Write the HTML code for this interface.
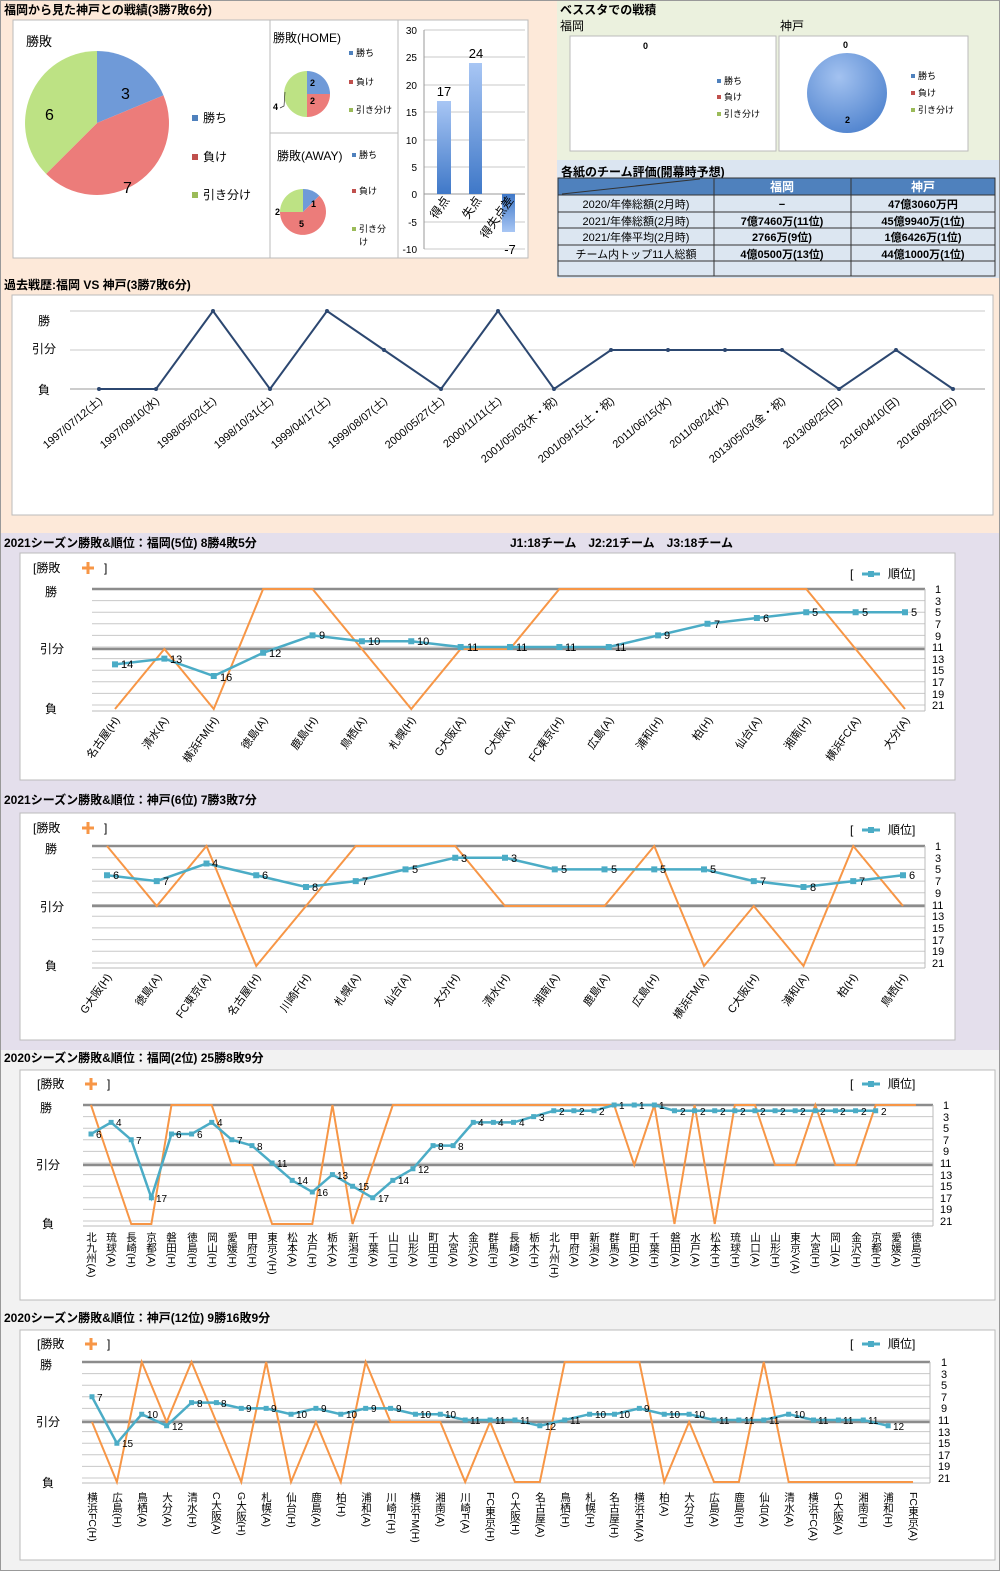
<!DOCTYPE html>
<html><head><meta charset="utf-8"><style>
body{margin:0;width:1000px;height:1571px;overflow:hidden;font-family:"Liberation Sans","Noto Sans CJK JP",sans-serif}
svg text{font-family:"Liberation Sans","Noto Sans CJK JP",sans-serif}
.t{font-size:12px;font-weight:bold}
.s{font-size:11px}
.r{font-size:11px}
.n{font-size:10px}
.g line{stroke:#c8c8c8;stroke-width:1;vector-effect:non-scaling-stroke}
.ns{vector-effect:non-scaling-stroke;fill:none}
.vt{font-size:10.5px;writing-mode:vertical-rl}
</style></head><body>
<svg width="1000" height="1571" viewBox="0 0 1000 1571" xmlns="http://www.w3.org/2000/svg">
<defs>
<linearGradient id="bb" x1="0" y1="0" x2="0" y2="1"><stop offset="0" stop-color="#a8c6f4"/><stop offset="1" stop-color="#3f78c8"/></linearGradient>
<linearGradient id="bn" x1="0" y1="0" x2="0" y2="1"><stop offset="0" stop-color="#3f78c8"/><stop offset="1" stop-color="#a8c6f4"/></linearGradient>
<radialGradient id="pb" cx="0.4" cy="0.3" r="0.8"><stop offset="0" stop-color="#a3c2f0"/><stop offset="1" stop-color="#4a7fcc"/></radialGradient>
</defs>
<rect x="0" y="0" width="1000" height="533" fill="#fde9d9"/>
<rect x="557" y="0" width="443" height="160" fill="#ebf1de"/>
<rect x="557" y="160" width="443" height="118" fill="#dbe5f1"/>
<rect x="0" y="533" width="1000" height="517" fill="#e4dfec"/>
<rect x="0" y="1050" width="1000" height="521" fill="#f2f2f2"/>
<rect x="0.5" y="0.5" width="999" height="1570" fill="none" stroke="#999"/>

<text x="4" y="14" class="t">福岡から見た神戸との戦績(3勝7敗6分)</text>
<rect x="13" y="20" width="515" height="238" fill="#fff" stroke="#bbb"/>
<line x1="270" y1="20" x2="270" y2="258" stroke="#bbb"/>
<line x1="398" y1="20" x2="398" y2="258" stroke="#bbb"/>
<line x1="270" y1="133" x2="398" y2="133" stroke="#bbb"/>
<text x="26" y="46" font-size="13">勝敗</text>
<path d="M97,123 L97,51 A72,72 0 0 1 163.5,95.4 Z" fill="#6f9ad8"/>
<path d="M97,123 L163.5,95.4 A72,72 0 0 1 46.1,173.9 Z" fill="#ec7c7a"/>
<path d="M97,123 L46.1,173.9 A72,72 0 0 1 97,51 Z" fill="#bde284"/>
<text x="121" y="99" font-size="16">3</text>
<text x="123" y="193" font-size="16">7</text>
<text x="45" y="120" font-size="16">6</text>
<rect x="192" y="115" width="6" height="6" fill="#4f81bd"/><text x="203" y="122" font-size="12">勝ち</text>
<rect x="192" y="154" width="6" height="6" fill="#c0504d"/><text x="203" y="161" font-size="12">負け</text>
<rect x="192" y="192" width="6" height="6" fill="#9bbb59"/><text x="203" y="199" font-size="12">引き分け</text>

<text x="273" y="42" font-size="12">勝敗(HOME)</text>
<path d="M307,94 L307,71 A23,23 0 0 1 330,94 Z" fill="#6f9ad8"/>
<path d="M307,94 L330,94 A23,23 0 0 1 307,117 Z" fill="#ec7c7a"/>
<path d="M307,94 L307,117 A23,23 0 0 1 307,71 Z" fill="#bde284"/>
<text x="310" y="86" font-size="9" font-weight="bold">2</text>
<text x="310" y="104" font-size="9" font-weight="bold">2</text>
<text x="273" y="110" font-size="9" font-weight="bold">4</text>
<polyline points="280,108 284,106 285,92" fill="none" stroke="#333" stroke-width="0.7"/>
<rect x="349" y="51" width="4" height="4" fill="#4f81bd"/><text x="356" y="56" font-size="9">勝ち</text>
<rect x="349" y="80" width="4" height="4" fill="#c0504d"/><text x="356" y="85" font-size="9">負け</text>
<rect x="349" y="108" width="4" height="4" fill="#9bbb59"/><text x="356" y="113" font-size="9">引き分け</text>

<text x="277" y="160" font-size="12">勝敗(AWAY)</text>
<path d="M303,212 L303,189 A23,23 0 0 1 319.3,195.7 Z" fill="#6f9ad8"/>
<path d="M303,212 L319.3,195.7 A23,23 0 1 1 280,212 Z" fill="#ec7c7a"/>
<path d="M303,212 L280,212 A23,23 0 0 1 303,189 Z" fill="#bde284"/>
<text x="311" y="207" font-size="9" font-weight="bold">1</text>
<text x="299" y="227" font-size="9" font-weight="bold">5</text>
<text x="275" y="215" font-size="9" font-weight="bold">2</text>
<rect x="352" y="153" width="4" height="4" fill="#4f81bd"/><text x="359" y="158" font-size="9">勝ち</text>
<rect x="352" y="189" width="4" height="4" fill="#c0504d"/><text x="359" y="194" font-size="9">負け</text>
<rect x="352" y="227" width="4" height="4" fill="#9bbb59"/><text x="359" y="232" font-size="9">引き分</text><text x="359" y="245" font-size="9">け</text>

<g stroke="#c8c8c8">
<line x1="424" y1="30" x2="525" y2="30"/><line x1="424" y1="57" x2="525" y2="57"/><line x1="424" y1="85" x2="525" y2="85"/><line x1="424" y1="112" x2="525" y2="112"/><line x1="424" y1="140" x2="525" y2="140"/><line x1="424" y1="167" x2="525" y2="167"/><line x1="424" y1="222" x2="525" y2="222"/><line x1="424" y1="249" x2="525" y2="249"/>
</g>
<line x1="424" y1="194" x2="525" y2="194" stroke="#999"/>
<line x1="424" y1="30" x2="424" y2="249" stroke="#999"/>
<g font-size="10" text-anchor="end"><text x="417" y="34">30</text><text x="417" y="61">25</text><text x="417" y="89">20</text><text x="417" y="116">15</text><text x="417" y="144">10</text><text x="417" y="171">5</text><text x="417" y="198">0</text><text x="417" y="226">-5</text><text x="417" y="253">-10</text></g>
<rect x="437" y="101" width="14" height="93" fill="url(#bb)"/>
<rect x="469" y="63" width="13" height="131" fill="url(#bb)"/>
<rect x="502" y="194" width="13" height="38" fill="url(#bn)"/>
<text x="444" y="96" font-size="13" text-anchor="middle">17</text>
<text x="476" y="58" font-size="13" text-anchor="middle">24</text>
<text x="510" y="254" font-size="13" text-anchor="middle">-7</text>
<text transform="translate(450,200) rotate(-55)" text-anchor="end" font-size="12">得点</text>
<text transform="translate(482,200) rotate(-55)" text-anchor="end" font-size="12">失点</text>
<text transform="translate(514,200) rotate(-55)" text-anchor="end" font-size="12">得失点差</text>

<text x="560" y="14" class="t">ベススタでの戦積</text>
<text x="560" y="30" font-size="12">福岡</text>
<text x="780" y="30" font-size="12">神戸</text>
<rect x="570" y="36" width="206" height="115" fill="#fff" stroke="#bbb"/>
<rect x="779" y="36" width="189" height="115" fill="#fff" stroke="#bbb"/>
<text x="643" y="49" font-size="9" font-weight="bold">0</text>
<rect x="717" y="79" width="4" height="4" fill="#4f81bd"/><text x="724" y="84" font-size="9">勝ち</text>
<rect x="717" y="95" width="4" height="4" fill="#c0504d"/><text x="724" y="100" font-size="9">負け</text>
<rect x="717" y="112" width="4" height="4" fill="#9bbb59"/><text x="724" y="117" font-size="9">引き分け</text>
<circle cx="847" cy="93" r="40" fill="url(#pb)"/>
<text x="843" y="48" font-size="9" font-weight="bold">0</text>
<text x="845" y="123" font-size="9" font-weight="bold">2</text>
<rect x="911" y="74" width="4" height="4" fill="#4f81bd"/><text x="918" y="79" font-size="9">勝ち</text>
<rect x="911" y="91" width="4" height="4" fill="#c0504d"/><text x="918" y="96" font-size="9">負け</text>
<rect x="911" y="108" width="4" height="4" fill="#9bbb59"/><text x="918" y="113" font-size="9">引き分け</text>

<text x="561" y="176" class="t">各紙のチーム評価(開幕時予想)</text>
<rect x="558" y="178" width="437" height="17" fill="#4f81bd"/>
<rect x="558" y="195" width="437" height="81" fill="#dce6f1"/>
<g stroke="#333" stroke-width="1">
<rect x="558" y="178" width="437" height="98" fill="none"/>
<line x1="558" y1="195" x2="995" y2="195"/><line x1="558" y1="212" x2="995" y2="212"/><line x1="558" y1="228" x2="995" y2="228"/><line x1="558" y1="245" x2="995" y2="245"/><line x1="558" y1="261" x2="995" y2="261"/>
<line x1="714" y1="178" x2="714" y2="276"/><line x1="851" y1="178" x2="851" y2="276"/>
<line x1="562" y1="194" x2="700" y2="179"/>
</g>
<text x="782" y="191" font-size="12" font-weight="bold" fill="#fff" text-anchor="middle">福岡</text>
<text x="923" y="191" font-size="12" font-weight="bold" fill="#fff" text-anchor="middle">神戸</text>
<g font-size="11" text-anchor="middle">
<text x="636" y="208">2020/年俸総額(2月時)</text><text x="636" y="225">2021/年俸総額(2月時)</text><text x="636" y="241">2021/年俸平均(2月時)</text><text x="636" y="258">チーム内トップ11人総額</text>
</g>
<g font-size="11" font-weight="bold" text-anchor="middle">
<text x="782" y="208">−</text><text x="782" y="225">7億7460万(11位)</text><text x="782" y="241">2766万(9位)</text><text x="782" y="258">4億0500万(13位)</text>
<text x="923" y="208">47億3060万円</text><text x="923" y="225">45億9940万(1位)</text><text x="923" y="241">1億6426万(1位)</text><text x="923" y="258">44億1000万(1位)</text>
</g>

<text x="4" y="289" class="t">過去戦歴:福岡 VS 神戸(3勝7敗6分)</text>
<rect x="12" y="295" width="981" height="220" fill="#fff" stroke="#bbb"/>
<line x1="70" y1="311" x2="985" y2="311" stroke="#c8c8c8"/>
<line x1="70" y1="350" x2="985" y2="350" stroke="#c8c8c8"/>
<line x1="70" y1="389" x2="985" y2="389" stroke="#999"/>
<text x="38" y="325" font-size="12">勝</text><text x="32" y="353" font-size="12">引分</text><text x="38" y="394" font-size="12">負</text>
<polyline points="99,389 156,389 213,311 270,389 327,311 384,350 441,389 498,311 554,389 611,350 668,350 725,350 782,350 839,389 896,350 953,389" fill="none" stroke="#2c4770" stroke-width="2"/>
<g fill="#2c4770"><circle cx="99" cy="389" r="2"/><circle cx="156" cy="389" r="2"/><circle cx="213" cy="311" r="2"/><circle cx="270" cy="389" r="2"/><circle cx="327" cy="311" r="2"/><circle cx="384" cy="350" r="2"/><circle cx="441" cy="389" r="2"/><circle cx="498" cy="311" r="2"/><circle cx="554" cy="389" r="2"/><circle cx="611" cy="350" r="2"/><circle cx="668" cy="350" r="2"/><circle cx="725" cy="350" r="2"/><circle cx="782" cy="350" r="2"/><circle cx="839" cy="389" r="2"/><circle cx="896" cy="350" r="2"/><circle cx="953" cy="389" r="2"/></g>
<g font-size="11" text-anchor="end">
<text transform="translate(103,402) rotate(-40)">1997/07/12(土)</text>
<text transform="translate(160,402) rotate(-40)">1997/09/10(水)</text>
<text transform="translate(217,402) rotate(-40)">1998/05/02(土)</text>
<text transform="translate(274,402) rotate(-40)">1998/10/31(土)</text>
<text transform="translate(331,402) rotate(-40)">1999/04/17(土)</text>
<text transform="translate(388,402) rotate(-40)">1999/08/07(土)</text>
<text transform="translate(445,402) rotate(-40)">2000/05/27(土)</text>
<text transform="translate(502,402) rotate(-40)">2000/11/11(土)</text>
<text transform="translate(558,402) rotate(-40)">2001/05/03(木・祝)</text>
<text transform="translate(615,402) rotate(-40)">2001/09/15(土・祝)</text>
<text transform="translate(672,402) rotate(-40)">2011/06/15(水)</text>
<text transform="translate(729,402) rotate(-40)">2011/08/24(水)</text>
<text transform="translate(786,402) rotate(-40)">2013/05/03(金・祝)</text>
<text transform="translate(843,402) rotate(-40)">2013/08/25(日)</text>
<text transform="translate(900,402) rotate(-40)">2016/04/10(日)</text>
<text transform="translate(957,402) rotate(-40)">2016/09/25(日)</text>
</g>

<text x="4" y="547" class="t">2021シーズン勝敗&amp;順位：福岡(5位) 8勝4敗5分</text>
<text x="510" y="547" class="t">J1:18チーム　J2:21チーム　J3:18チーム</text>
<rect x="20" y="553" width="935" height="227" fill="#fff" stroke="#bbb"/>
<text x="33" y="572" font-size="12">[勝敗</text><path d="M82,568h12M88,562v12" stroke="#f79646" stroke-width="3"/><text x="104" y="572" font-size="12">]</text>
<text x="850" y="578" font-size="12">[</text><path d="M862,574h18" stroke="#4bacc6" stroke-width="3"/><rect x="868" y="571" width="6" height="6" fill="#4bacc6"/><text x="888" y="578" font-size="12">順位]</text>
<g class="g" transform="translate(0,583.2) scale(1,5.8)"><line x1="92" x2="925" y1="3" y2="3"/><line x1="92" x2="925" y1="5" y2="5"/><line x1="92" x2="925" y1="7" y2="7"/><line x1="92" x2="925" y1="9" y2="9"/><line x1="92" x2="925" y1="11" y2="11"/><line x1="92" x2="925" y1="13" y2="13"/><line x1="92" x2="925" y1="15" y2="15"/><line x1="92" x2="925" y1="17" y2="17"/><line x1="92" x2="925" y1="19" y2="19"/><line x1="92" x2="925" y1="21" y2="21"/></g>
<line x1="92" x2="925" y1="589" y2="589" stroke="#8c8c8c" stroke-width="2.5"/>
<line x1="92" x2="925" y1="649" y2="649" stroke="#8c8c8c" stroke-width="2.5"/>
<line x1="92" x2="925" y1="711" y2="711" stroke="#bbb"/>
<line x1="925" x2="925" y1="589" y2="711" stroke="#bbb"/>
<text x="45" y="596" font-size="12">勝</text><text x="40" y="653" font-size="12">引分</text><text x="45" y="713" font-size="12">負</text>
<g class="r"><text x="935" y="593">1</text><text x="935" y="605">3</text><text x="935" y="616">5</text><text x="935" y="628">7</text><text x="935" y="640">9</text><text x="932" y="651">11</text><text x="932" y="663">13</text><text x="932" y="674">15</text><text x="932" y="686">17</text><text x="932" y="698">19</text><text x="932" y="709">21</text></g>
<g transform="translate(115,583.2) scale(49.375,5.8)">
<polyline class="ns" stroke="#f79646" stroke-width="2" points="0,21.69 1,11.34 2,21.69 3,1 4,1 5,11.34 6,21.69 7,11.34 8,11.34 9,1 10,1 11,1 12,1 13,1 14,1 15,11.34 16,21.69"/>
<polyline class="ns" stroke="#4bacc6" stroke-width="2.5" points="0,14 1,13 2,16 3,12 4,9 5,10 6,10 7,11 8,11 9,11 10,11 11,9 12,7 13,6 14,5 15,5 16,5"/>
<path class="ns" stroke="#4bacc6" stroke-width="6" stroke-linecap="square" d="M0,14h0M1,13h0M2,16h0M3,12h0M4,9h0M5,10h0M6,10h0M7,11h0M8,11h0M9,11h0M10,11h0M11,9h0M12,7h0M13,6h0M14,5h0M15,5h0M16,5h0"/>
</g>
<g class="r"><text x="121" y="668">14</text><text x="170" y="663">13</text><text x="220" y="681">16</text><text x="269" y="657">12</text><text x="319" y="639">9</text><text x="368" y="645">10</text><text x="417" y="645">10</text><text x="467" y="651">11</text><text x="516" y="651">11</text><text x="565" y="651">11</text><text x="615" y="651">11</text><text x="664" y="639">9</text><text x="714" y="628">7</text><text x="763" y="622">6</text><text x="812" y="616">5</text><text x="862" y="616">5</text><text x="911" y="616">5</text></g>
<g class="s" text-anchor="end">
<text transform="translate(120,720) rotate(-55)">名古屋(H)</text><text transform="translate(169,720) rotate(-55)">清水(A)</text><text transform="translate(219,720) rotate(-55)">横浜FM(H)</text><text transform="translate(268,720) rotate(-55)">徳島(A)</text><text transform="translate(318,720) rotate(-55)">鹿島(H)</text><text transform="translate(367,720) rotate(-55)">鳥栖(A)</text><text transform="translate(416,720) rotate(-55)">札幌(H)</text><text transform="translate(466,720) rotate(-55)">G大阪(A)</text><text transform="translate(515,720) rotate(-55)">C大阪(A)</text><text transform="translate(564,720) rotate(-55)">FC東京(H)</text><text transform="translate(614,720) rotate(-55)">広島(A)</text><text transform="translate(663,720) rotate(-55)">浦和(H)</text><text transform="translate(713,720) rotate(-55)">柏(H)</text><text transform="translate(762,720) rotate(-55)">仙台(A)</text><text transform="translate(811,720) rotate(-55)">湘南(H)</text><text transform="translate(861,720) rotate(-55)">横浜FC(A)</text><text transform="translate(910,720) rotate(-55)">大分(A)</text>
</g>

<text x="4" y="804" class="t">2021シーズン勝敗&amp;順位：神戸(6位) 7勝3敗7分</text>
<rect x="20" y="813" width="935" height="227" fill="#fff" stroke="#bbb"/>
<text x="33" y="832" font-size="12">[勝敗</text><path d="M82,828h12M88,822v12" stroke="#f79646" stroke-width="3"/><text x="104" y="832" font-size="12">]</text>
<text x="850" y="834" font-size="12">[</text><path d="M862,830h18" stroke="#4bacc6" stroke-width="3"/><rect x="868" y="827" width="6" height="6" fill="#4bacc6"/><text x="888" y="834" font-size="12">順位]</text>
<g class="g" transform="translate(0,840.15) scale(1,5.85)"><line x1="92" x2="925" y1="3" y2="3"/><line x1="92" x2="925" y1="5" y2="5"/><line x1="92" x2="925" y1="7" y2="7"/><line x1="92" x2="925" y1="9" y2="9"/><line x1="92" x2="925" y1="11" y2="11"/><line x1="92" x2="925" y1="13" y2="13"/><line x1="92" x2="925" y1="15" y2="15"/><line x1="92" x2="925" y1="17" y2="17"/><line x1="92" x2="925" y1="19" y2="19"/><line x1="92" x2="925" y1="21" y2="21"/></g>
<line x1="92" x2="925" y1="846" y2="846" stroke="#8c8c8c" stroke-width="2.5"/>
<line x1="92" x2="925" y1="906" y2="906" stroke="#8c8c8c" stroke-width="2.5"/>
<line x1="92" x2="925" y1="968" y2="968" stroke="#bbb"/>
<line x1="925" x2="925" y1="846" y2="968" stroke="#bbb"/>
<text x="45" y="853" font-size="12">勝</text><text x="40" y="911" font-size="12">引分</text><text x="45" y="970" font-size="12">負</text>
<g class="r"><text x="935" y="850">1</text><text x="935" y="862">3</text><text x="935" y="873">5</text><text x="935" y="885">7</text><text x="935" y="897">9</text><text x="932" y="909">11</text><text x="932" y="920">13</text><text x="932" y="932">15</text><text x="932" y="944">17</text><text x="932" y="955">19</text><text x="932" y="967">21</text></g>
<g transform="translate(107,840.15) scale(49.75,5.85)">
<polyline class="ns" stroke="#f79646" stroke-width="2" points="0,1 1,11.26 2,1 3,21.51 4,11.26 5,1 6,1 7,1 8,11.26 9,11.26 10,11.26 11,1 12,21.51 13,11.26 14,21.51 15,1 16,11.26"/>
<polyline class="ns" stroke="#4bacc6" stroke-width="2.5" points="0,6 1,7 2,4 3,6 4,8 5,7 6,5 7,3 8,3 9,5 10,5 11,5 12,5 13,7 14,8 15,7 16,6"/>
<path class="ns" stroke="#4bacc6" stroke-width="6" stroke-linecap="square" d="M0,6h0M1,7h0M2,4h0M3,6h0M4,8h0M5,7h0M6,5h0M7,3h0M8,3h0M9,5h0M10,5h0M11,5h0M12,5h0M13,7h0M14,8h0M15,7h0M16,6h0"/>
</g>
<g class="r"><text x="113" y="879">6</text><text x="163" y="885">7</text><text x="212" y="867">4</text><text x="262" y="879">6</text><text x="312" y="891">8</text><text x="362" y="885">7</text><text x="412" y="873">5</text><text x="461" y="862">3</text><text x="511" y="862">3</text><text x="561" y="873">5</text><text x="611" y="873">5</text><text x="660" y="873">5</text><text x="710" y="873">5</text><text x="760" y="885">7</text><text x="810" y="891">8</text><text x="859" y="885">7</text><text x="909" y="879">6</text></g>
<g class="s" text-anchor="end">
<text transform="translate(112,977) rotate(-55)">G大阪(H)</text><text transform="translate(162,977) rotate(-55)">徳島(A)</text><text transform="translate(211,977) rotate(-55)">FC東京(A)</text><text transform="translate(261,977) rotate(-55)">名古屋(H)</text><text transform="translate(311,977) rotate(-55)">川崎F(H)</text><text transform="translate(361,977) rotate(-55)">札幌(A)</text><text transform="translate(411,977) rotate(-55)">仙台(A)</text><text transform="translate(460,977) rotate(-55)">大分(H)</text><text transform="translate(510,977) rotate(-55)">清水(H)</text><text transform="translate(560,977) rotate(-55)">湘南(A)</text><text transform="translate(610,977) rotate(-55)">鹿島(A)</text><text transform="translate(659,977) rotate(-55)">広島(H)</text><text transform="translate(709,977) rotate(-55)">横浜FM(A)</text><text transform="translate(759,977) rotate(-55)">C大阪(H)</text><text transform="translate(809,977) rotate(-55)">浦和(A)</text><text transform="translate(858,977) rotate(-55)">柏(H)</text><text transform="translate(908,977) rotate(-55)">鳥栖(H)</text>
</g>

<text x="4" y="1062" class="t">2020シーズン勝敗&amp;順位：福岡(2位) 25勝8敗9分</text>
<rect x="20" y="1070" width="975" height="230" fill="#fff" stroke="#bbb"/>
<text x="37" y="1088" font-size="12">[勝敗</text><path d="M85,1084h12M91,1078v12" stroke="#f79646" stroke-width="3"/><text x="107" y="1088" font-size="12">]</text>
<text x="850" y="1088" font-size="12">[</text><path d="M862,1084h18" stroke="#4bacc6" stroke-width="3"/><rect x="868" y="1081" width="6" height="6" fill="#4bacc6"/><text x="888" y="1088" font-size="12">順位]</text>
<g class="g" transform="translate(0,1099.2) scale(1,5.8)"><line x1="83" x2="933" y1="3" y2="3"/><line x1="83" x2="933" y1="5" y2="5"/><line x1="83" x2="933" y1="7" y2="7"/><line x1="83" x2="933" y1="9" y2="9"/><line x1="83" x2="933" y1="11" y2="11"/><line x1="83" x2="933" y1="13" y2="13"/><line x1="83" x2="933" y1="15" y2="15"/><line x1="83" x2="933" y1="17" y2="17"/><line x1="83" x2="933" y1="19" y2="19"/><line x1="83" x2="933" y1="21" y2="21"/></g>
<line x1="83" x2="933" y1="1105" y2="1105" stroke="#8c8c8c" stroke-width="2.5"/>
<line x1="83" x2="933" y1="1165" y2="1165" stroke="#8c8c8c" stroke-width="2.5"/>
<line x1="83" x2="933" y1="1226" y2="1226" stroke="#bbb"/>
<line x1="933" x2="933" y1="1105" y2="1226" stroke="#bbb"/>
<text x="40" y="1112" font-size="12">勝</text><text x="36" y="1169" font-size="12">引分</text><text x="42" y="1228" font-size="12">負</text>
<g class="r"><text x="943" y="1109">1</text><text x="943" y="1121">3</text><text x="943" y="1132">5</text><text x="943" y="1144">7</text><text x="943" y="1155">9</text><text x="940" y="1167">11</text><text x="940" y="1179">13</text><text x="940" y="1190">15</text><text x="940" y="1202">17</text><text x="940" y="1213">19</text><text x="940" y="1225">21</text></g>
<g transform="translate(91,1099.2) scale(20.12,5.8)">
<polyline class="ns" stroke="#f79646" stroke-width="2" points="0,1 1,11.34 2,21.52 3,21.52 4,1 5,1 6,1 7,11.34 8,11.34 9,21.52 10,21.52 11,21.52 12,1 13,21.52 14,11.34 15,1 16,1 17,1 18,1 19,1 20,1 21,1 22,1 23,1 24,1 25,1 26,1 27,11.34 28,1 29,21.52 30,1 31,21.52 32,1 33,1 34,11.34 35,11.34 36,1 37,11.34 38,11.34 39,1 40,1 41,1"/>
<polyline class="ns" stroke="#4bacc6" stroke-width="2.5" points="0,6 1,4 2,7 3,17 4,6 5,6 6,4 7,7 8,8 9,11 10,14 11,16 12,13 13,15 14,17 15,14 16,12 17,8 18,8 19,4 20,4 21,4 22,3 23,2 24,2 25,2 26,1 27,1 28,1 29,2 30,2 31,2 32,2 33,2 34,2 35,2 36,2 37,2 38,2 39,2"/>
<path class="ns" stroke="#4bacc6" stroke-width="5" stroke-linecap="square" d="M0,6h0M1,4h0M2,7h0M3,17h0M4,6h0M5,6h0M6,4h0M7,7h0M8,8h0M9,11h0M10,14h0M11,16h0M12,13h0M13,15h0M14,17h0M15,14h0M16,12h0M17,8h0M18,8h0M19,4h0M20,4h0M21,4h0M22,3h0M23,2h0M24,2h0M25,2h0M26,1h0M27,1h0M28,1h0M29,2h0M30,2h0M31,2h0M32,2h0M33,2h0M34,2h0M35,2h0M36,2h0M37,2h0M38,2h0M39,2h0"/>
</g>
<g class="n"><text x="96" y="1138">6</text><text x="116" y="1126">4</text><text x="136" y="1144">7</text><text x="156" y="1202">17</text><text x="176" y="1138">6</text><text x="197" y="1138">6</text><text x="217" y="1126">4</text><text x="237" y="1144">7</text><text x="257" y="1150">8</text><text x="277" y="1167">11</text><text x="297" y="1184">14</text><text x="317" y="1196">16</text><text x="337" y="1179">13</text><text x="358" y="1190">15</text><text x="378" y="1202">17</text><text x="398" y="1184">14</text><text x="418" y="1173">12</text><text x="438" y="1150">8</text><text x="458" y="1150">8</text><text x="478" y="1126">4</text><text x="498" y="1126">4</text><text x="519" y="1126">4</text><text x="539" y="1121">3</text><text x="559" y="1115">2</text><text x="579" y="1115">2</text><text x="599" y="1115">2</text><text x="619" y="1109">1</text><text x="639" y="1109">1</text><text x="659" y="1109">1</text><text x="680" y="1115">2</text><text x="700" y="1115">2</text><text x="720" y="1115">2</text><text x="740" y="1115">2</text><text x="760" y="1115">2</text><text x="780" y="1115">2</text><text x="800" y="1115">2</text><text x="820" y="1115">2</text><text x="840" y="1115">2</text><text x="861" y="1115">2</text><text x="881" y="1115">2</text></g>
<g class="vt">
<text x="91" y="1232">北九州(A)</text><text x="111" y="1232">琉球(A)</text><text x="131" y="1232">長崎(H)</text><text x="151" y="1232">京都(A)</text><text x="171" y="1232">磐田(H)</text><text x="192" y="1232">徳島(H)</text><text x="212" y="1232">岡山(H)</text><text x="232" y="1232">愛媛(H)</text><text x="252" y="1232">甲府(H)</text><text x="272" y="1232">東京V(H)</text><text x="292" y="1232">松本(A)</text><text x="312" y="1232">水戸(H)</text><text x="332" y="1232">栃木(A)</text><text x="353" y="1232">新潟(H)</text><text x="373" y="1232">千葉(A)</text><text x="393" y="1232">山口(H)</text><text x="413" y="1232">山形(A)</text><text x="433" y="1232">町田(H)</text><text x="453" y="1232">大宮(A)</text><text x="473" y="1232">金沢(A)</text><text x="493" y="1232">群馬(H)</text><text x="514" y="1232">長崎(A)</text><text x="534" y="1232">栃木(H)</text><text x="554" y="1232">北九州(H)</text><text x="574" y="1232">甲府(A)</text><text x="594" y="1232">新潟(A)</text><text x="614" y="1232">群馬(A)</text><text x="634" y="1232">町田(A)</text><text x="654" y="1232">千葉(H)</text><text x="675" y="1232">磐田(A)</text><text x="695" y="1232">水戸(A)</text><text x="715" y="1232">松本(H)</text><text x="735" y="1232">琉球(H)</text><text x="755" y="1232">山口(A)</text><text x="775" y="1232">山形(H)</text><text x="795" y="1232">東京V(A)</text><text x="815" y="1232">大宮(H)</text><text x="835" y="1232">岡山(A)</text><text x="856" y="1232">金沢(H)</text><text x="876" y="1232">京都(H)</text><text x="896" y="1232">愛媛(A)</text><text x="916" y="1232">徳島(H)</text>
</g>

<text x="4" y="1322" class="t">2020シーズン勝敗&amp;順位：神戸(12位) 9勝16敗9分</text>
<rect x="20" y="1330" width="975" height="230" fill="#fff" stroke="#bbb"/>
<text x="37" y="1348" font-size="12">[勝敗</text><path d="M85,1344h12M91,1338v12" stroke="#f79646" stroke-width="3"/><text x="107" y="1348" font-size="12">]</text>
<text x="850" y="1348" font-size="12">[</text><path d="M862,1344h18" stroke="#4bacc6" stroke-width="3"/><rect x="868" y="1341" width="6" height="6" fill="#4bacc6"/><text x="888" y="1348" font-size="12">順位]</text>
<g class="g" transform="translate(0,1356.2) scale(1,5.8)"><line x1="82" x2="930" y1="3" y2="3"/><line x1="82" x2="930" y1="5" y2="5"/><line x1="82" x2="930" y1="7" y2="7"/><line x1="82" x2="930" y1="9" y2="9"/><line x1="82" x2="930" y1="11" y2="11"/><line x1="82" x2="930" y1="13" y2="13"/><line x1="82" x2="930" y1="15" y2="15"/><line x1="82" x2="930" y1="17" y2="17"/><line x1="82" x2="930" y1="19" y2="19"/><line x1="82" x2="930" y1="21" y2="21"/></g>
<line x1="82" x2="930" y1="1362" y2="1362" stroke="#8c8c8c" stroke-width="2.5"/>
<line x1="82" x2="930" y1="1422" y2="1422" stroke="#8c8c8c" stroke-width="2.5"/>
<line x1="82" x2="930" y1="1483" y2="1483" stroke="#bbb"/>
<line x1="930" x2="930" y1="1362" y2="1483" stroke="#bbb"/>
<text x="40" y="1369" font-size="12">勝</text><text x="36" y="1426" font-size="12">引分</text><text x="42" y="1487" font-size="12">負</text>
<g class="r"><text x="941" y="1366">1</text><text x="941" y="1378">3</text><text x="941" y="1389">5</text><text x="941" y="1401">7</text><text x="941" y="1412">9</text><text x="938" y="1424">11</text><text x="938" y="1436">13</text><text x="938" y="1447">15</text><text x="938" y="1459">17</text><text x="938" y="1470">19</text><text x="938" y="1482">21</text></g>
<g transform="translate(92,1356.2) scale(24.88,5.8)">
<polyline class="ns" stroke="#f79646" stroke-width="2" points="0,11.34 1,21.69 2,1 3,11.34 4,1 5,11.34 6,21.69 7,1 8,21.69 9,11.34 10,21.69 11,1 12,11.34 13,11.34 14,11.34 15,21.69 16,11.34 17,21.69 18,21.69 19,1 20,1 21,1 22,1 23,21.69 24,11.34 25,21.69 26,21.69 27,1 28,21.69 29,21.69 30,21.69 31,21.69 32,21.69 33,21.69"/>
<polyline class="ns" stroke="#4bacc6" stroke-width="2.5" points="0,7 1,15 2,10 3,12 4,8 5,8 6,9 7,9 8,10 9,9 10,10 11,9 12,9 13,10 14,10 15,11 16,11 17,11 18,12 19,11 20,10 21,10 22,9 23,10 24,10 25,11 26,11 27,11 28,10 29,11 30,11 31,11 32,12"/>
<path class="ns" stroke="#4bacc6" stroke-width="5" stroke-linecap="square" d="M0,7h0M1,15h0M2,10h0M3,12h0M4,8h0M5,8h0M6,9h0M7,9h0M8,10h0M9,9h0M10,10h0M11,9h0M12,9h0M13,10h0M14,10h0M15,11h0M16,11h0M17,11h0M18,12h0M19,11h0M20,10h0M21,10h0M22,9h0M23,10h0M24,10h0M25,11h0M26,11h0M27,11h0M28,10h0M29,11h0M30,11h0M31,11h0M32,12h0"/>
</g>
<g class="n"><text x="97" y="1401">7</text><text x="122" y="1447">15</text><text x="147" y="1418">10</text><text x="172" y="1430">12</text><text x="197" y="1407">8</text><text x="221" y="1407">8</text><text x="246" y="1412">9</text><text x="271" y="1412">9</text><text x="296" y="1418">10</text><text x="321" y="1412">9</text><text x="346" y="1418">10</text><text x="371" y="1412">9</text><text x="396" y="1412">9</text><text x="420" y="1418">10</text><text x="445" y="1418">10</text><text x="470" y="1424">11</text><text x="495" y="1424">11</text><text x="520" y="1424">11</text><text x="545" y="1430">12</text><text x="570" y="1424">11</text><text x="595" y="1418">10</text><text x="619" y="1418">10</text><text x="644" y="1412">9</text><text x="669" y="1418">10</text><text x="694" y="1418">10</text><text x="719" y="1424">11</text><text x="744" y="1424">11</text><text x="769" y="1424">11</text><text x="794" y="1418">10</text><text x="818" y="1424">11</text><text x="843" y="1424">11</text><text x="868" y="1424">11</text><text x="893" y="1430">12</text></g>
<g class="vt">
<text x="92" y="1492">横浜FC(H)</text><text x="117" y="1492">広島(H)</text><text x="142" y="1492">鳥栖(A)</text><text x="167" y="1492">大分(A)</text><text x="192" y="1492">清水(H)</text><text x="216" y="1492">C大阪(A)</text><text x="241" y="1492">G大阪(H)</text><text x="266" y="1492">札幌(A)</text><text x="291" y="1492">仙台(H)</text><text x="316" y="1492">鹿島(A)</text><text x="341" y="1492">柏(H)</text><text x="366" y="1492">浦和(A)</text><text x="391" y="1492">川崎F(H)</text><text x="415" y="1492">横浜FM(H)</text><text x="440" y="1492">湘南(A)</text><text x="465" y="1492">川崎F(A)</text><text x="490" y="1492">FC東京(H)</text><text x="515" y="1492">C大阪(H)</text><text x="540" y="1492">名古屋(A)</text><text x="565" y="1492">鳥栖(H)</text><text x="590" y="1492">札幌(H)</text><text x="614" y="1492">名古屋(H)</text><text x="639" y="1492">横浜FM(A)</text><text x="664" y="1492">柏(A)</text><text x="689" y="1492">大分(H)</text><text x="714" y="1492">広島(A)</text><text x="739" y="1492">鹿島(H)</text><text x="764" y="1492">仙台(A)</text><text x="789" y="1492">清水(A)</text><text x="813" y="1492">横浜FC(A)</text><text x="838" y="1492">G大阪(A)</text><text x="863" y="1492">湘南(H)</text><text x="888" y="1492">浦和(H)</text><text x="913" y="1492">FC東京(A)</text>
</g>
</svg>
</body></html>
